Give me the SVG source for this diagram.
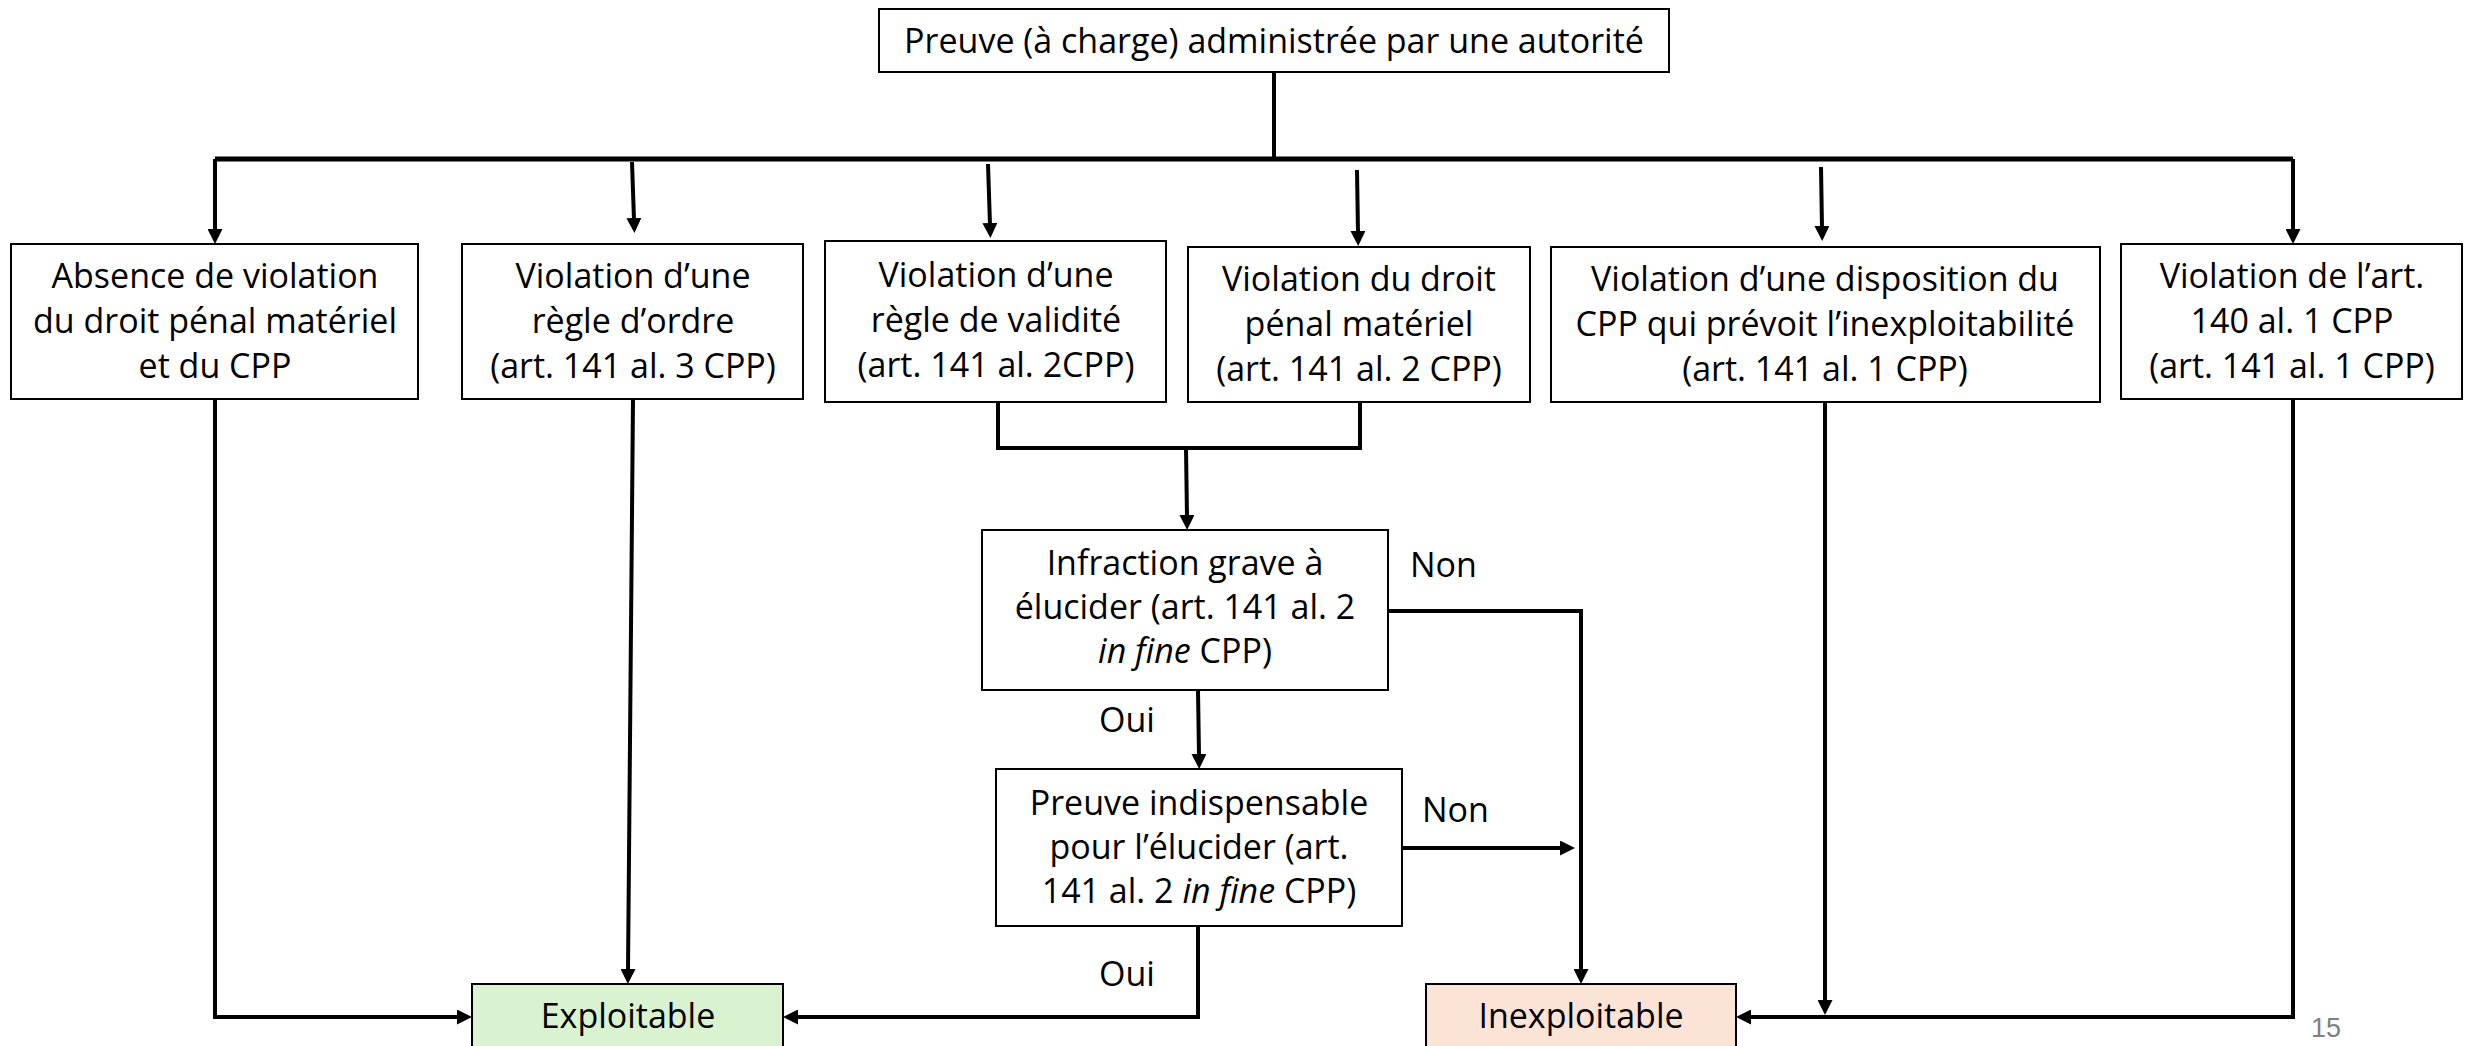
<svg xmlns="http://www.w3.org/2000/svg" width="2476" height="1046" viewBox="0 0 2476 1046">
<style>
.box{fill:#fff;stroke:#000;stroke-width:2}
.t{font-family:"Open Sans","Liberation Sans",sans-serif;font-size:34px;fill:#000;text-anchor:middle}
.lbl{font-family:"Open Sans","Liberation Sans",sans-serif;font-size:34px;fill:#000}
.c{fill:none;stroke:#000;stroke-width:4}
.bus{fill:none;stroke:#000;stroke-width:5}
.a{marker-end:url(#ah)}
</style>
<defs>
<marker id="ah" viewBox="0 0 15 15" refX="2" refY="7.5" markerWidth="15" markerHeight="15" markerUnits="userSpaceOnUse" orient="auto">
<path d="M0,0 L15,7.5 L0,15 z" fill="#000"/>
</marker>
</defs>
<rect width="2476" height="1046" fill="#fff"/>

<g id="connectors">
<path class="c" d="M1274,72 V159"/>
<path class="bus" d="M215,159 H2293"/>
<path class="c a" d="M215,159 V231"/>
<path class="c a" d="M632,162 L634,220"/>
<path class="c a" d="M988,164 L990,225"/>
<path class="c a" d="M1357,170 L1358,233"/>
<path class="c a" d="M1821,167 L1822,228"/>
<path class="c a" d="M2293,159 V231"/>
<path class="c a" d="M215,399 V1017 H459"/>
<path class="c a" d="M633,399 L628,971"/>
<path class="c" d="M998,402 V448 H1360 V402"/>
<path class="c a" d="M1186,448 L1187,517"/>
<path class="c a" d="M1388,611 H1581 V971"/>
<path class="c a" d="M1198,690 L1199,756"/>
<path class="c a" d="M1402,848 H1562"/>
<path class="c a" d="M1198,926 V1017 H796"/>
<path class="c a" d="M1825,402 V1002"/>
<path class="c a" d="M2293,399 V1017 H1749"/>
</g>

<g id="n-top">
<rect class="box" x="879" y="9" width="790" height="63"/>
<text class="t" x="1274" y="53">Preuve (à charge) administrée par une autorité</text>
</g>

<g id="n-absence">
<rect class="box" x="11" y="244" width="407" height="155"/>
<text class="t" x="215" y="288">Absence de violation</text>
<text class="t" x="215" y="333">du droit pénal matériel</text>
<text class="t" x="215" y="378">et du CPP</text>
</g>

<g id="n-ordre">
<rect class="box" x="462" y="244" width="341" height="155"/>
<text class="t" x="633" y="288">Violation d’une</text>
<text class="t" x="633" y="333">règle d’ordre</text>
<text class="t" x="633" y="378">(art. 141 al. 3 CPP)</text>
</g>

<g id="n-validite">
<rect class="box" x="825" y="241" width="341" height="161"/>
<text class="t" x="996" y="287">Violation d’une</text>
<text class="t" x="996" y="332">règle de validité</text>
<text class="t" x="996" y="377">(art. 141 al. 2CPP)</text>
</g>

<g id="n-droit">
<rect class="box" x="1188" y="247" width="342" height="155"/>
<text class="t" x="1359" y="291">Violation du droit</text>
<text class="t" x="1359" y="336">pénal matériel</text>
<text class="t" x="1359" y="381">(art. 141 al. 2 CPP)</text>
</g>

<g id="n-disposition">
<rect class="box" x="1551" y="247" width="549" height="155"/>
<text class="t" x="1825" y="291">Violation d’une disposition du</text>
<text class="t" x="1825" y="336">CPP qui prévoit l’inexploitabilité</text>
<text class="t" x="1825" y="381">(art. 141 al. 1 CPP)</text>
</g>

<g id="n-art140">
<rect class="box" x="2121" y="244" width="341" height="155"/>
<text class="t" x="2292" y="288">Violation de l’art.</text>
<text class="t" x="2292" y="333">140 al. 1 CPP</text>
<text class="t" x="2292" y="378">(art. 141 al. 1 CPP)</text>
</g>

<g id="n-infraction">
<rect class="box" x="982" y="530" width="406" height="160"/>
<text class="t" x="1185" y="575">Infraction grave à</text>
<text class="t" x="1185" y="619">élucider (art. 141 al. 2</text>
<text class="t" x="1185" y="663"><tspan font-style="italic">in fine</tspan> CPP)</text>
</g>

<g id="n-indispensable">
<rect class="box" x="996" y="769" width="406" height="157"/>
<text class="t" x="1199" y="815">Preuve indispensable</text>
<text class="t" x="1199" y="859">pour l’élucider (art.</text>
<text class="t" x="1199" y="903">141 al. 2 <tspan font-style="italic">in fine</tspan> CPP)</text>
</g>

<g id="n-exploitable">
<rect x="472" y="984" width="311" height="70" fill="#D9F2D0" stroke="#000" stroke-width="2"/>
<text class="t" x="628" y="1028">Exploitable</text>
</g>

<g id="n-inexploitable">
<rect x="1426" y="984" width="310" height="70" fill="#FBE3D6" stroke="#000" stroke-width="2"/>
<text class="t" x="1581" y="1028">Inexploitable</text>
</g>

<g id="labels">
<text class="lbl" x="1410" y="577">Non</text>
<text class="lbl" x="1099" y="732">Oui</text>
<text class="lbl" x="1422" y="822">Non</text>
<text class="lbl" x="1099" y="986">Oui</text>
</g>

<text x="2311" y="1037" font-family="Liberation Sans, Arial, sans-serif" font-size="27" fill="#7F7F7F">15</text>
</svg>
